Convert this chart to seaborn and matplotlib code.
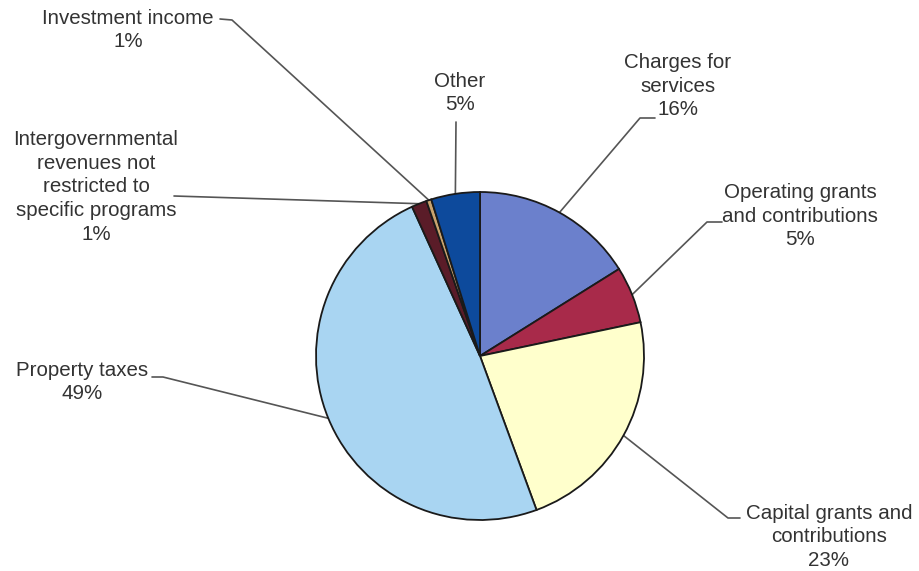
import matplotlib
matplotlib.use("Agg")
import matplotlib.pyplot as plt
import numpy as np
import seaborn as sns

sns.set_theme(style="white")
plt.rcParams['font.family'] = ['Liberation Sans', 'DejaVu Sans']

# Data (clockwise from 12 o'clock)
categories = ["Charges for\nservices", "Operating grants\nand contributions",
              "Capital grants and\ncontributions", "Property taxes",
              "Intergovernmental\nrevenues not\nrestricted to\nspecific programs",
              "Investment income", "Other"]
values = [16.1, 5.6, 22.7, 48.8, 1.5, 0.5, 4.8]
pct_labels = ["16%", "5%", "23%", "49%", "1%", "1%", "5%"]
colors = ["#6B80CC", "#A82A4A", "#FFFFCC", "#A9D5F2", "#5A1C28", "#C9A46E", "#0D4A9C"]

W, H = 920, 571
fig = plt.figure(figsize=(W / 100, H / 100), dpi=100)
ax = fig.add_axes([0, 0, 1, 1])
ax.axis('off')

cx, cy, R = 480, H - 356, 164
wedges, _ = ax.pie(values, colors=colors, startangle=90, counterclock=False,
                   center=(cx, cy), radius=R,
                   wedgeprops=dict(edgecolor="#1a1a1a", linewidth=1.3))
ax.set_xlim(0, W)
ax.set_ylim(0, H)
ax.set_aspect('equal')

# Label layout (image pixel coords): text centre; leader points ordered from pie edge outward
layout = [
    dict(txt=(678, 86), pts=[(640, 118), (655, 118)]),
    dict(txt=(800, 216), pts=[(707, 222), (722, 222)]),
    dict(txt=(829, 537), pts=[(728, 518), (740, 518)]),
    dict(txt=(82, 382), pts=[(163, 377), (152, 377)]),
    dict(txt=(96, 187), pts=[(174, 196)]),
    dict(txt=(128, 30), pts=[(232, 20), (220, 19)]),
    dict(txt=(460, 93), pts=[(456, 122)]),
]

for w, cat, pl, lay in zip(wedges, categories, pct_labels, layout):
    mid = np.deg2rad((w.theta1 + w.theta2) / 2)
    ex, ey = cx + R * np.cos(mid), cy + R * np.sin(mid)
    xs, ys = zip(*([(ex, ey)] + [(x, H - y) for x, y in lay['pts']]))
    ax.plot(xs, ys, color="#555555", lw=1.2, zorder=0)
    tx, ty = lay['txt']
    ax.text(tx, H - ty, cat + "\n" + pl, ha='center', va='center',
            fontsize=14.8, color="#333333", linespacing=1.32)

fig.savefig("out.png", dpi=100, facecolor="white")
